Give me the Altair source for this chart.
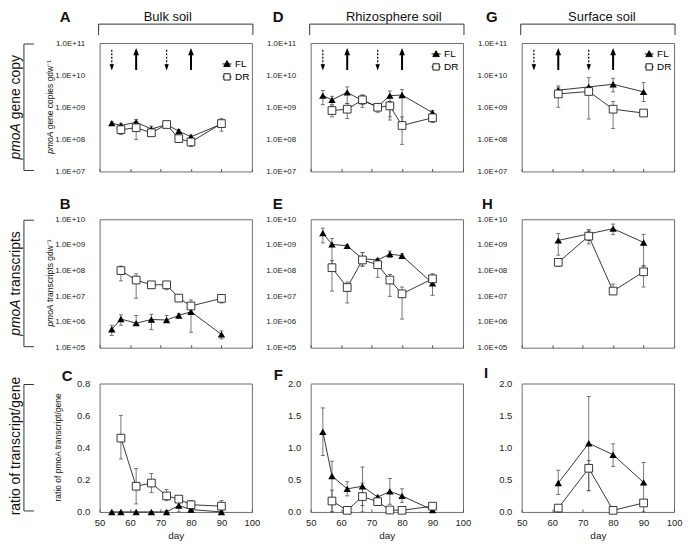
import altair as alt
import pandas as pd

FONT = "Liberation Sans"

# ---------------- data ----------------
DAYS = [54, 57, 62, 67, 72, 76, 80, 90]
DAYS_DR = [57, 62, 67, 72, 76, 80, 90]
DAYS_SURF = [62, 72, 80, 90]

ARROW_DAYS = [54, 62, 72, 80]
ARROW_KIND = ["dry", "flood", "dry", "flood"]

# A: bulk soil, pmoA gene copies
A_FL = [3.2e8, 2.7e8, 3.4e8, 2.1e8, 2.9e8, 1.8e8, 1.2e8, 3.0e8]
A_FL_LO = [2.9e8, 2.2e8, 2.4e8, 1.6e8, 2.5e8, 1.5e8, 1.0e8, 2.5e8]
A_FL_HI = [3.5e8, 3.2e8, 4.2e8, 2.6e8, 3.2e8, 2.0e8, 1.35e8, 3.5e8]
A_DR = [2.0e8, 2.3e8, 1.6e8, 2.9e8, 1.05e8, 8.3e7, 3.1e8]
A_DR_LO = [1.4e8, 1.0e8, 1.3e8, 2.3e8, 9.5e7, 6.0e7, 1.8e8]
A_DR_HI = [2.8e8, 3.6e8, 2.2e8, 3.3e8, 1.2e8, 1.0e8, 4.4e8]

# D: rhizosphere soil, gene copies
D_FL = [2.3e9, 1.7e9, 2.9e9, 1.6e9, 1.05e9, 2.3e9, 2.4e9, 6.8e8]
D_FL_LO = [1.2e9, 1.2e9, 1.3e9, 1.2e9, 8.0e8, 5.0e8, 3.5e8, 5.5e8]
D_FL_HI = [3.3e9, 2.2e9, 4.3e9, 2.4e9, 1.3e9, 3.2e9, 3.6e9, 8.0e8]
D_DR = [7.9e8, 8.7e8, 1.7e9, 1.0e9, 1.1e9, 2.7e8, 4.7e8]
D_DR_LO = [5.0e8, 4.5e8, 1.0e9, 7.0e8, 4.0e8, 7.0e7, 3.3e8]
D_DR_HI = [1.1e9, 1.3e9, 2.4e9, 1.2e9, 1.5e9, 5.0e8, 6.0e8]

# G: surface soil, gene copies
G_FL = [3.4e9, 4.3e9, 5.2e9, 3.0e9]
G_FL_LO = [2.5e9, 2.7e9, 3.0e9, 1.5e9]
G_FL_HI = [4.6e9, 8.3e9, 8.0e9, 5.8e9]
G_DR = [2.6e9, 3.1e9, 8.7e8, 6.6e8]
G_DR_LO = [1.0e9, 4.3e8, 2.2e8, 5.2e8]
G_DR_HI = [4.0e9, 4.4e9, 1.5e9, 8.0e8]

# B: bulk soil, transcripts
B_FL = [5.2e5, 1.3e6, 9.0e5, 1.25e6, 1.2e6, 1.8e6, 2.5e6, 3.3e5]
B_FL_LO = [3.0e5, 7.5e5, 8.5e5, 5.0e5, 1.0e6, 1.6e6, 4.0e5, 2.2e5]
B_FL_HI = [7.5e5, 1.9e6, 1.8e6, 2.0e6, 1.8e6, 2.1e6, 3.6e6, 4.5e5]
B_DR = [1.0e8, 4.3e7, 2.8e7, 2.8e7, 8.5e6, 4.2e6, 8.3e6]
B_DR_LO = [4.0e7, 8.5e6, 2.5e7, 1.8e7, 8.0e6, 3.8e6, 5.5e6]
B_DR_HI = [1.5e8, 7.5e7, 3.1e7, 3.3e7, 9.5e6, 7.2e6, 1.0e7]

# E: rhizosphere soil, transcripts
E_FL = [2.9e9, 1.05e9, 9.2e8, 2.9e8, 2.6e8, 4.4e8, 3.8e8, 3.2e7]
E_FL_LO = [1.2e9, 1.6e8, 8.5e8, 1.5e8, 2.3e8, 3.3e8, 3.3e8, 1.1e7]
E_FL_HI = [4.5e9, 1.8e9, 1.0e9, 5.0e8, 3.0e8, 5.8e8, 4.5e8, 4.5e7]
E_DR = [1.3e8, 2.2e7, 2.6e8, 1.7e8, 4.3e7, 1.25e7, 4.8e7]
E_DR_LO = [1.6e7, 5.5e6, 1.5e8, 5.5e7, 1.0e7, 1.3e6, 3.0e7]
E_DR_HI = [2.5e8, 3.6e7, 5.0e8, 2.5e8, 7.0e7, 2.3e7, 7.5e7]

# H: surface soil, transcripts
H_FL = [1.5e9, 2.7e9, 4.3e9, 1.25e9]
H_FL_LO = [4.0e8, 1.5e9, 2.5e9, 1.5e8]
H_FL_HI = [2.8e9, 4.0e9, 6.5e9, 2.6e9]
H_DR = [2.1e8, 2.2e9, 1.6e7, 9.0e7]
H_DR_LO = [1.5e8, 1.1e9, 1.2e7, 2.3e7]
H_DR_HI = [2.8e8, 3.5e9, 3.0e7, 1.6e8]

# C: bulk soil, ratio
C_FL = [0.0, 0.0, 0.0, 0.0, 0.0, 0.04, 0.015, 0.0]
C_FL_LO = [0.0, 0.0, 0.0, 0.0, 0.0, 0.0, 0.01, 0.0]
C_FL_HI = [0.0, 0.0, 0.0, 0.0, 0.01, 0.07, 0.02, 0.0]
C_DR = [0.46, 0.16, 0.18, 0.10, 0.08, 0.045, 0.036]
C_DR_LO = [0.33, 0.05, 0.12, 0.07, 0.07, 0.03, 0.01]
C_DR_HI = [0.60, 0.27, 0.24, 0.14, 0.09, 0.07, 0.07]

# F: rhizosphere soil, ratio
F_FL = [1.25, 0.56, 0.36, 0.40, 0.23, 0.32, 0.25, 0.03]
F_FL_LO = [0.88, 0.0, 0.25, 0.10, 0.20, 0.12, 0.15, 0.0]
F_FL_HI = [1.62, 0.79, 0.47, 0.70, 0.26, 0.52, 0.36, 0.05]
F_DR = [0.17, 0.025, 0.24, 0.16, 0.03, 0.025, 0.09]
F_DR_LO = [0.0, 0.0, 0.0, 0.11, 0.0, 0.0, 0.07]
F_DR_HI = [0.34, 0.05, 0.45, 0.20, 0.06, 0.04, 0.11]

# I: surface soil, ratio
I_FL = [0.45, 1.07, 0.89, 0.46]
I_FL_LO = [0.27, 0.33, 0.71, 0.0]
I_FL_HI = [0.65, 1.80, 1.06, 0.77]
I_DR = [0.06, 0.68, 0.025, 0.14]
I_DR_LO = [0.0, 0.33, 0.0, 0.10]
I_DR_HI = [0.10, 0.80, 0.05, 0.18]

HEADERS = ["Bulk soil", "Rhizosphere soil", "Surface soil"]

# ---------------- helpers ----------------
W, H = 153, 129
FL_SYM = "M-1.3,0H1.3M0,-0.95L0.95,0.75H-0.95Z"
DR_SYM = "M-1.3,0H-0.9M0.9,0H1.3M-0.9,-0.9H0.9V0.9H-0.9Z"
ARROW_DOWN = "M-0.7,-1L0.7,-1L0,1Z"
ARROW_UP = "M-0.8,1L0.8,1L0,-1Z"


def series(days, val, lo, hi, name):
    return pd.DataFrame({"day": days, "value": val, "lo": lo, "hi": hi, "series": name})


def one():
    return pd.DataFrame({"k": [0]})


def text_layer(text, x, y, size, weight="normal", style="normal", angle=0,
               align="left", baseline="alphabetic", color="#111"):
    return alt.Chart(one()).mark_text(
        text=text, fontSize=size, font=FONT, fontWeight=weight, fontStyle=style,
        angle=angle, align=align, baseline=baseline, color=color
    ).encode(x=alt.value(x), y=alt.value(y))


def rule_layer(x1, x2, y1, y2, color="#333", width=1.0):
    return alt.Chart(one()).mark_rule(color=color, strokeWidth=width).encode(
        x=alt.value(x1), x2=alt.value(x2), y=alt.value(y1), y2=alt.value(y2))


def vertical_parts(parts, x, yc, size):
    total = sum(em for _, _, em in parts) * size
    y = yc + total / 2
    out = []
    for text, style, em in parts:
        out.append(text_layer(text, x, y, size, style=style, angle=270,
                              align="left", baseline="middle"))
        y -= em * size
    return out


LOG_EXPR = ("'1.0E+' + (round(log(datum.value)/LN10) < 10 ? '0' : '') + "
            "round(log(datum.value)/LN10)")


def panel(fl, dr, ydom, yvals, log, xlabels, letter, letter_pos,
          header=None, legend_xy=None, row_label=None, y_title=None, arrows=False):
    df = pd.concat([fl, dr], ignore_index=True)
    xscale = alt.Scale(domain=[50, 100], nice=False, zero=False)
    xaxis_kw = dict(values=[50, 60, 70, 80, 90, 100], labels=xlabels, ticks=True,
                    tickSize=3, offset=-3, domain=False, grid=False, labelFlush=False,
                    labelFontSize=9.5, labelPadding=6)
    if xlabels:
        xaxis = alt.Axis(title="day", titleFontSize=10, titleFontWeight="normal",
                         titlePadding=3, **xaxis_kw)
    else:
        xaxis = alt.Axis(title=None, **xaxis_kw)
    if log:
        yscale = alt.Scale(type="log", domain=ydom, nice=False)
        yaxis = alt.Axis(values=yvals, labelExpr=LOG_EXPR, ticks=False, domain=False,
                         grid=False, labelPadding=15, labelFontSize=8, title=None,
                         labelFlush=False, labelOverlap=False)
    else:
        yscale = alt.Scale(domain=ydom, nice=False, zero=True)
        yaxis = alt.Axis(values=yvals, format=".1f", ticks=False, domain=False,
                         grid=False, labelPadding=10, labelFontSize=9.5, title=None,
                         labelFlush=False, labelOverlap=False)
    X = alt.X("day:Q", scale=xscale, axis=xaxis)

    def Yf(field):
        return alt.Y(field + ":Q", scale=yscale, axis=yaxis)

    base = alt.Chart(df)
    layers = []
    layers.append(base.mark_rule(color="#555", strokeWidth=0.8).encode(
        x=X, y=Yf("lo"), y2=alt.Y2("hi")))
    for f in ["lo", "hi"]:
        layers.append(base.mark_tick(orient="horizontal", size=4, thickness=0.8,
                                     color="#555", opacity=1).encode(x=X, y=Yf(f)))
    for s in ["FL", "DR"]:
        layers.append(base.transform_filter(f"datum.series == '{s}'").mark_line(
            color="#222", strokeWidth=0.9).encode(x=X, y=Yf("value")))
    layers.append(base.transform_filter("datum.series == 'FL'").mark_point(
        shape="triangle-up", filled=True, color="black", size=55, opacity=1
    ).encode(x=X, y=Yf("value")))
    layers.append(base.transform_filter("datum.series == 'DR'").mark_point(
        shape="square", filled=True, fill="white", stroke="#222", strokeWidth=0.9,
        size=60, opacity=1).encode(x=X, y=Yf("value")))

    if arrows:
        adf = pd.DataFrame({"day": ARROW_DAYS, "kind": ARROW_KIND})
        adf["top"] = [6.2e10 if k == "dry" else 5.0e10 for k in adf["kind"]]
        adf["bottom"] = [2.0e10 if k == "dry" else 1.45e10 for k in adf["kind"]]
        adf["head"] = [1.75e10 if k == "dry" else 5.4e10 for k in adf["kind"]]
        ab = alt.Chart(adf)
        layers.append(ab.transform_filter("datum.kind == 'dry'").mark_rule(
            color="black", strokeWidth=1.2, strokeDash=[2, 1.5]).encode(
            x=X, y=Yf("top"), y2=alt.Y2("bottom")))
        layers.append(ab.transform_filter("datum.kind == 'flood'").mark_rule(
            color="black", strokeWidth=2).encode(x=X, y=Yf("top"), y2=alt.Y2("bottom")))
        layers.append(ab.transform_filter("datum.kind == 'dry'").mark_point(
            shape=ARROW_DOWN, filled=True, color="black", size=40, opacity=1
        ).encode(x=X, y=Yf("head")))
        layers.append(ab.transform_filter("datum.kind == 'flood'").mark_point(
            shape=ARROW_UP, filled=True, color="black", size=50, opacity=1
        ).encode(x=X, y=Yf("head")))

    if legend_xy is not None:
        leg = alt.Legend(title=None, orient="none", legendX=legend_xy[0],
                         legendY=legend_xy[1], labelFontSize=10, labelFont=FONT,
                         symbolSize=49, symbolStrokeWidth=0.9,
                         rowPadding=3, labelOffset=3, padding=0)
        dom = ["FL", "DR"]
        layers.append(base.transform_filter("datum.day < 0").mark_point(
            filled=True, opacity=1, strokeWidth=0.9).encode(
            shape=alt.Shape("series:N", scale=alt.Scale(domain=dom, range=[FL_SYM, DR_SYM]), legend=leg),
            fill=alt.Fill("series:N", scale=alt.Scale(domain=dom, range=["black", "white"]), legend=leg),
            stroke=alt.Stroke("series:N", scale=alt.Scale(domain=dom, range=["black", "black"]), legend=leg)))

    # panel letter
    layers.append(text_layer(letter, letter_pos[0], letter_pos[1], 15, weight="bold"))
    # column header with bracket
    if header is not None:
        txt, dx = header
        layers.append(text_layer(txt, W / 2 + dx, -22, 13, align="center"))
        layers.append(rule_layer(-1, W + 1, -19, -19))
        layers.append(rule_layer(-1, -1, -19, -8))
        layers.append(rule_layer(W + 1, W + 1, -19, -8))
    # row label with bracket
    if row_label is not None:
        layers.append(rule_layer(-76, -76, 1, H - 1))
        layers.append(rule_layer(-76, -66, 1, 1))
        layers.append(rule_layer(-76, -66, H - 1, H - 1))
        layers += vertical_parts(row_label, -84, H / 2, 14)
    if y_title is not None:
        yt, ytx = y_title
        layers += vertical_parts(yt, ytx, H / 2, 8.5)

    return alt.layer(*layers).properties(width=W, height=H)


LOG1 = [1e7, 1e8, 1e9, 1e10, 1e11]
LOG2 = [1e5, 1e6, 1e7, 1e8, 1e9, 1e10]

pA = panel(series(DAYS, A_FL, A_FL_LO, A_FL_HI, "FL"), series(DAYS_DR, A_DR, A_DR_LO, A_DR_HI, "DR"),
           [1e7, 1e11], LOG1, True, False, "A", (-40, -21), header=(HEADERS[0], -8),
           legend_xy=(123, 16), arrows=True,
           row_label=[("pmoA", "italic", 2.89), ("gene copy", "normal", 4.614)],
           y_title=([("pmoA", "italic", 2.89), ("gene copies gdw\u207b\u00b9", "normal", 8.1)], -50))
pD = panel(series(DAYS, D_FL, D_FL_LO, D_FL_HI, "FL"), series(DAYS_DR, D_DR, D_DR_LO, D_DR_HI, "DR"),
           [1e7, 1e11], LOG1, True, False, "D", (-38, -21), header=(HEADERS[1], 7),
           legend_xy=(121, 6), arrows=True)
pG = panel(series(DAYS_SURF, G_FL, G_FL_LO, G_FL_HI, "FL"), series(DAYS_SURF, G_DR, G_DR_LO, G_DR_HI, "DR"),
           [1e7, 1e11], LOG1, True, False, "G", (-36, -21), header=(HEADERS[2], 4),
           legend_xy=(123, 6), arrows=True)

pB = panel(series(DAYS, B_FL, B_FL_LO, B_FL_HI, "FL"), series(DAYS_DR, B_DR, B_DR_LO, B_DR_HI, "DR"),
           [1e5, 1e10], LOG2, True, False, "B", (-40, -10),
           row_label=[("pmoA", "italic", 2.89), ("transcripts", "normal", 4.612)],
           y_title=([("pmoA", "italic", 2.89), ("transcripts gdw\u207b\u00b9", "normal", 7.3)], -50))
pE = panel(series(DAYS, E_FL, E_FL_LO, E_FL_HI, "FL"), series(DAYS_DR, E_DR, E_DR_LO, E_DR_HI, "DR"),
           [1e5, 1e10], LOG2, True, False, "E", (-38, -10))
pH = panel(series(DAYS_SURF, H_FL, H_FL_LO, H_FL_HI, "FL"), series(DAYS_SURF, H_DR, H_DR_LO, H_DR_HI, "DR"),
           [1e5, 1e10], LOG2, True, False, "H", (-40, -10))

pC = panel(series(DAYS, C_FL, C_FL_LO, C_FL_HI, "FL"), series(DAYS_DR, C_DR, C_DR_LO, C_DR_HI, "DR"),
           [0, 0.8], [0, 0.2, 0.4, 0.6, 0.8], False, True, "C", (-38, -3),
           row_label=[("ratio of transcript/gene", "normal", 9.7)],
           y_title=([("ratio of pmoA transcript/gene", "normal", 12.7)], -42))
pF = panel(series(DAYS, F_FL, F_FL_LO, F_FL_HI, "FL"), series(DAYS_DR, F_DR, F_DR_LO, F_DR_HI, "DR"),
           [0, 2], [0, 0.5, 1.0, 1.5, 2.0], False, True, "F", (-37, -4))
pI = panel(series(DAYS_SURF, I_FL, I_FL_LO, I_FL_HI, "FL"), series(DAYS_SURF, I_DR, I_DR_LO, I_DR_HI, "DR"),
           [0, 2], [0, 0.5, 1.0, 1.5, 2.0], False, True, "I", (-38, -6))

IND = dict(shape="independent", fill="independent", stroke="independent")

row1 = alt.hconcat(pA, pD, pG, spacing=59, bounds="flush").resolve_scale(**IND).resolve_legend(**IND)
row2 = alt.hconcat(pB, pE, pH, spacing=59, bounds="flush")
row3 = alt.hconcat(pC, pF, pI, spacing=59, bounds="flush")
rows23 = alt.vconcat(row2, row3, spacing=12)

chart = alt.vconcat(row1, rows23, spacing=20).resolve_scale(**IND).resolve_legend(**IND).properties(
    padding={"left": 0, "top": 0, "right": 0, "bottom": 0}
).configure_view(stroke="#6e6e6e", strokeWidth=1).configure_axis(
    labelFont=FONT, titleFont=FONT, labelColor="#222", titleColor="#222", tickColor="#555"
).configure_legend(labelFont=FONT)

chart.save("out.html", embed_options={"renderer": "svg", "actions": False})
